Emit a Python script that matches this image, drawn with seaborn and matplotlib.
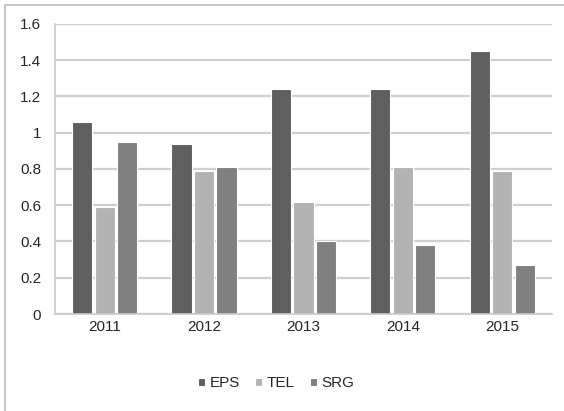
import numpy as np
import pandas as pd
import matplotlib
matplotlib.use("Agg")
import matplotlib.pyplot as plt
import seaborn as sns
from matplotlib.patches import Rectangle

years = ["2011", "2012", "2013", "2014", "2015"]
eps = [1.06, 0.94, 1.24, 1.24, 1.45]
tel = [0.59, 0.79, 0.62, 0.81, 0.79]
srg = [0.95, 0.81, 0.40, 0.38, 0.27]
series = ["EPS", "TEL", "SRG"]
colors = ["#5f5f5f", "#b3b3b3", "#808080"]

df = pd.DataFrame({"year": years * 3,
                   "value": eps + tel + srg,
                   "series": [s for s in series for _ in years]})

sns.set_style("white")
plt.rcParams['font.family'] = ['Liberation Sans', 'DejaVu Sans']

fig = plt.figure(figsize=(5.64, 4.11), dpi=100)
ax = fig.add_axes([0.0975, 0.236, 0.881, 0.706])

sns.barplot(data=df, x="year", y="value", hue="series", palette=colors,
            width=0.68, gap=0.1, edgecolor="white", linewidth=0.8,
            ax=ax, legend=True)

ax.set_ylim(0, 1.6)
ax.set_xlim(-0.5, 4.5)
ax.set_yticks(np.arange(0, 1.61, 0.2))
ax.set_yticklabels(["0", "0.2", "0.4", "0.6", "0.8", "1", "1.2", "1.4", "1.6"])
ax.yaxis.grid(True, color="#cfcfcf", linewidth=1.6)
ax.set_axisbelow(True)
ax.set_xlabel("")
ax.set_ylabel("")
for s in ["top", "right"]:
    ax.spines[s].set_visible(False)
ax.spines["left"].set_color("#c8c8c8")
ax.spines["bottom"].set_color("#c8c8c8")
ax.spines["left"].set_linewidth(1.2)
ax.spines["bottom"].set_linewidth(1.2)
ax.tick_params(axis="y", length=4, color="#c8c8c8", width=1.2, labelsize=11, pad=6)
ax.tick_params(axis="x", which="major", length=0, labelsize=11, pad=4)
ax.set_xticks(np.arange(-0.5, 4.6, 1), minor=True)
ax.tick_params(axis="x", which="minor", length=5, color="#c8c8c8", width=1.2)

handles, labels = ax.get_legend_handles_labels()
ax.get_legend().remove()
fig.legend(handles, labels, loc="center", bbox_to_anchor=(0.49, 0.068), ncol=3,
           frameon=False, fontsize=11, handlelength=0.45, handleheight=0.45,
           handletextpad=0.3, columnspacing=1.0)

fig.patches.append(Rectangle((5 / 564, -0.1), 1.2, 1 - 5 / 411 + 0.1,
                             transform=fig.transFigure, fill=False,
                             edgecolor="#bdbdbd", linewidth=1.2))

fig.savefig("out.png", dpi=100)
